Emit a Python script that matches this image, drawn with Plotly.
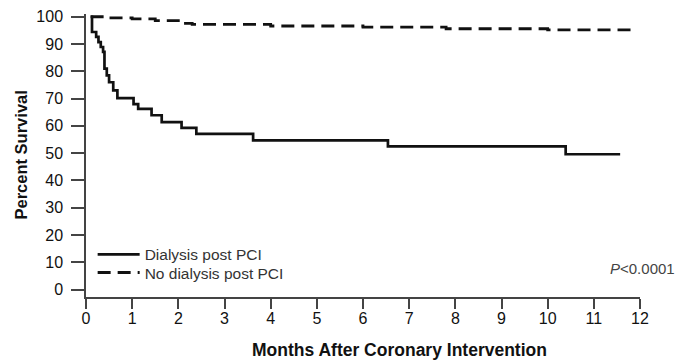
import plotly.graph_objects as go

# Kaplan-Meier survival estimates (months after PCI, percent surviving)
dialysis_months = [0.1, 0.13, 0.22, 0.27, 0.32, 0.37, 0.40, 0.45, 0.50, 0.59, 0.68,
                   1.03, 1.13, 1.42, 1.64, 2.07, 2.39, 3.62, 6.54, 10.39, 11.57]
dialysis_surv = [100, 94.4, 92.6, 90.7, 88.9, 87.1, 81.0, 78.5, 76.0, 73.0, 70.2,
                 68.0, 66.2, 63.9, 61.4, 59.3, 57.1, 54.7, 52.5, 49.6, 49.6]

no_dialysis_months = [0.1, 0.5, 1.0, 1.5, 2.0, 2.3, 4.0, 6.0, 7.8, 10.0, 11.8]
no_dialysis_surv = [100, 99.6, 99.2, 98.6, 97.6, 97.2, 96.6, 96.2, 95.6, 95.2, 95.0]

x_ticks = list(range(0, 13))
y_ticks = list(range(0, 101, 10))

FONT = "Arial, Liberation Sans, sans-serif"

fig = go.Figure()
fig.add_trace(go.Scatter(
    x=dialysis_months, y=dialysis_surv, mode="lines", line_shape="hv",
    name="Dialysis post PCI", legend="legend",
    line=dict(color="#111111", width=2.7),
))
fig.add_trace(go.Scatter(
    x=no_dialysis_months, y=no_dialysis_surv, mode="lines", line_shape="hv",
    name="No dialysis post PCI", legend="legend2",
    line=dict(color="#111111", width=2.8, dash="13px,7px"),
))

fig.add_annotation(
    text="<i>P</i>&lt;0.0001", xref="paper", x=1, xanchor="right", xshift=37,
    yref="y", y=7.8, yanchor="middle", showarrow=False,
    font=dict(family=FONT, size=15, color="#444444"),
)
fig.add_annotation(
    text="<b>Percent Survival</b>", xref="paper", x=0, xshift=-66,
    yref="paper", y=0.5, textangle=-90, showarrow=False,
    xanchor="center", yanchor="middle",
    font=dict(family=FONT, size=16.5, color="#111111"),
)
fig.add_annotation(
    text="<b>Months After Coronary Intervention</b>", xref="paper", x=0.566,
    yref="paper", y=0, yshift=-53, xanchor="center", yanchor="middle",
    showarrow=False, font=dict(family=FONT, size=17.5, color="#111111"),
)

legend_style = dict(
    xanchor="left", yanchor="middle",
    bgcolor="rgba(0,0,0,0)", borderwidth=0,
    font=dict(family=FONT, size=15.5, color="#333333"),
    itemwidth=42, tracegroupgap=0,
)

fig.update_layout(
    width=676, height=362,
    margin=dict(l=86, r=35.5, t=13.7, b=65.2, autoexpand=False),
    paper_bgcolor="white", plot_bgcolor="white",
    font=dict(family=FONT, size=15, color="#111111"),
    showlegend=True,
    legend=dict(x=0.012, y=0.149, **legend_style),
    legend2=dict(x=0.012, y=0.085, **legend_style),
    xaxis=dict(
        range=[0, 12], tickvals=x_ticks, ticktext=[str(v) for v in x_ticks],
        showgrid=False, zeroline=False, showline=True,
        linecolor="#444444", linewidth=1.5,
        ticks="outside", ticklen=10, tickwidth=1.5, tickcolor="#444444",
        ticklabelstandoff=-4,
        tickfont=dict(family=FONT, size=16, color="#111111"),
        fixedrange=True,
    ),
    yaxis=dict(
        range=[-2.7, 101], tickvals=y_ticks, ticktext=[str(v) for v in y_ticks],
        showgrid=False, zeroline=False, showline=True,
        linecolor="#444444", linewidth=1.5,
        ticks="outside", ticklen=13, tickwidth=1.5, tickcolor="#444444",
        ticklabelstandoff=5,
        tickfont=dict(family=FONT, size=16, color="#111111"),
        fixedrange=True,
    ),
)

fig.write_html("out.html")
